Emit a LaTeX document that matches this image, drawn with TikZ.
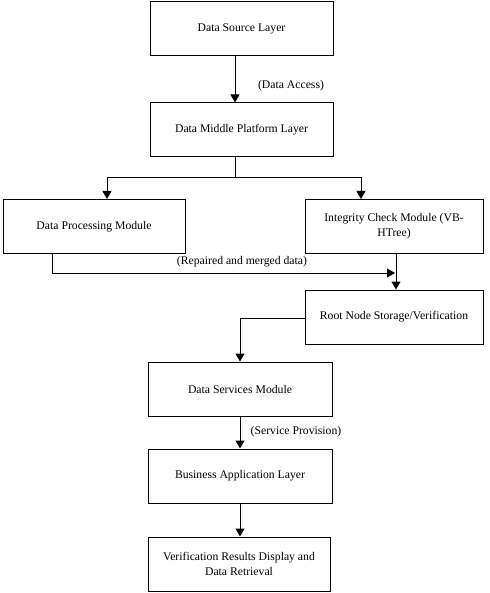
\documentclass[tikz,border=0pt]{standalone}
\usepackage{fontspec}
\setmainfont{Liberation Serif}
\usetikzlibrary{arrows.meta}
\begin{document}
\begin{tikzpicture}[x=1pt,y=-1pt,
  box/.style={draw,line width=1pt,minimum width=183pt,minimum height=54pt,align=center,font=\fontsize{11.7}{15}\selectfont,inner sep=2pt},
  lbl/.style={font=\fontsize{11.7}{14}\selectfont,inner sep=1pt},
  conn/.style={line width=1pt,-{Triangle[length=8pt,width=9pt]}},
  plain/.style={line width=1pt}]
\useasboundingbox (0,0) rectangle (489,593);
\node[box] (src) at (241.5,29) {Data Source Layer};
\node[box] (mid) at (241.5,130) {Data Middle Platform Layer};
\node[box,minimum width=182pt] (proc) at (94,226.5) {Data Processing Module};
\node[box,minimum width=178pt] (integ) at (394,226.5) {Integrity Check Module (VB-\\HTree)};
\node[box,minimum width=178pt] (root) at (394,317) {Root Node Storage/Verification};
\node[box,minimum width=184pt] (serv) at (240,389) {Data Services Module};
\node[box,minimum width=184pt] (bus) at (240,476) {Business Application Layer};
\node[box,minimum width=182pt] (ver) at (239,564) {Verification Results Display and\\Data Retrieval};
\coordinate (split) at (235,178);
\coordinate (pbend) at (52,273);
\coordinate (pend) at (395,273);
\coordinate (rbend) at (240,318);
\draw[conn] (src.south -| 235,0) -- (mid.north -| 235,0);
\node[lbl] (la) at (291,86) {(Data Access)};
\draw[plain] (mid.south -| split) -- (split);
\draw[conn] (split) -| (proc.north -| 107,0);
\draw[conn] (split) -| (integ.north -| 361,0);
\draw[conn] (proc.south -| pbend) -- (pbend) -- (pend);
\node[lbl] (lr) at (242,262) {(Repaired and merged data)};
\draw[conn] (integ.south -| 396,0) -- (root.north -| 396,0);
\draw[conn] (root.west |- rbend) -- (rbend) -- (serv.north -| rbend);
\draw[conn] (serv.south -| rbend) -- (bus.north -| rbend);
\node[lbl] (ls) at (296,432) {(Service Provision)};
\draw[conn] (bus.south -| rbend) -- (ver.north -| rbend);
\end{tikzpicture}
\end{document}
